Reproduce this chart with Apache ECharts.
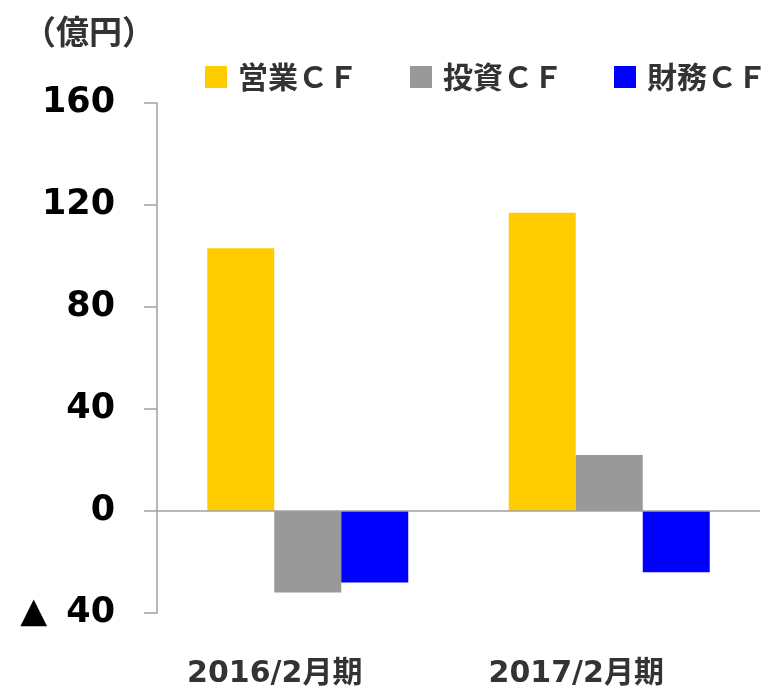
<!DOCTYPE html>
<html>
<head>
<meta charset="utf-8">
<script src="https://cdn.jsdelivr.net/npm/echarts@6/dist/echarts.min.js"></script>
<style>html,body{margin:0;padding:0;background:#fff;}#c{width:771px;height:690px;}</style>
</head>
<body>
<div id="c"></div>
<script>
const categories = ['2016/2月期', '2017/2月期'];
const seriesNames = ['営業ＣＦ', '投資ＣＦ', '財務ＣＦ'];
const operatingCF = [103, 117];
const investingCF = [-32, 22];
const financingCF = [-28, -24];
const yTicks = [-40, 0, 40, 80, 120, 160];
const unitLabel = '（億円）';

const colors = ['#FFCC00', '#999999', '#0000FF'];
const values = [operatingCF, investingCF, financingCF];
const cjk = '"Noto Sans CJK JP", "Noto Sans", sans-serif';
const mixed = '"DejaVu Sans", "Noto Sans CJK JP", sans-serif';
const legendLefts = [200, 405, 609];

const chart = echarts.init(document.getElementById('c'), null, {renderer: 'canvas'});
const option = {
  animation: false,
  backgroundColor: '#fff',
  title: {
    text: unitLabel, left: 18, top: 10,
    textStyle: {fontFamily: cjk, fontWeight: 'bold', fontSize: 33, color: '#333'}
  },
  legend: seriesNames.map((n, i) => ({
    data: [n], left: legendLefts[i], top: 57, icon: 'rect',
    itemWidth: 22, itemHeight: 22, itemGap: 0,
    textStyle: {fontFamily: cjk, fontWeight: 'bold', fontSize: 30, color: '#333', padding: [0, 0, 0, 6]}
  })),
  grid: {left: 157, right: 11, top: 103, bottom: 77, containLabel: false},
  xAxis: {
    type: 'category', data: categories,
    axisLine: {show: false, onZero: false},
    axisTick: {show: false},
    axisLabel: {margin: 46, fontFamily: mixed, fontWeight: 'bold', fontSize: 30, color: '#333', padding: [0, 66, 0, 0]}
  },
  yAxis: {
    type: 'value', min: yTicks[0], max: yTicks[yTicks.length - 1], interval: 40,
    axisLine: {show: true, lineStyle: {color: '#a0a0a0', width: 1.5}},
    axisTick: {show: true, length: 13, lineStyle: {color: '#a0a0a0', width: 1.5}},
    splitLine: {show: false},
    axisLabel: {
      margin: 42, fontFamily: '"DejaVu Sans", sans-serif', fontWeight: 'bold', fontSize: 35, color: '#000',
      formatter: v => v < 0 ? '▲ \u2009' + Math.abs(v) : String(v)
    }
  },
  series: seriesNames.map((n, i) => {
    const s = {
      name: n, type: 'bar', data: values[i], barWidth: 67, barGap: '0%',
      itemStyle: {color: colors[i]}
    };
    if (i === 0) {
      s.markLine = {
        silent: true, symbol: 'none', label: {show: false},
        lineStyle: {type: 'solid', color: '#a0a0a0', width: 1.5},
        data: [{yAxis: 0}]
      };
    }
    return s;
  })
};
chart.setOption(option);
</script>
</body>
</html>
